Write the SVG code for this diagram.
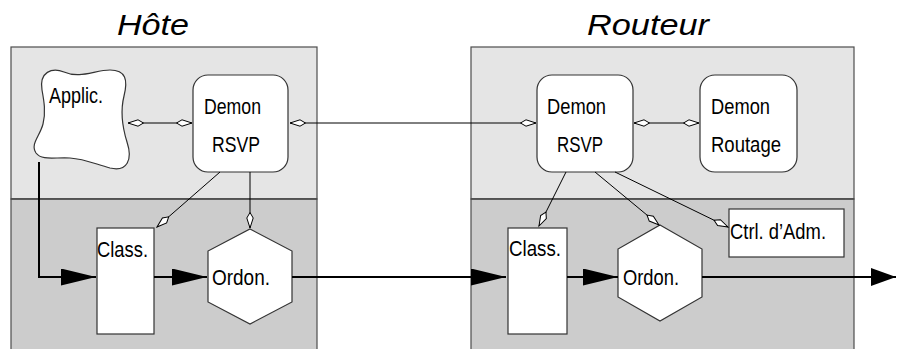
<svg xmlns="http://www.w3.org/2000/svg" width="897" height="349" viewBox="0 0 897 349">
<style>
  .top{fill:#e5e5e5;stroke:#4d4d4d;stroke-width:1.2}
  .bot{fill:#cccccc;stroke:#4d4d4d;stroke-width:1.2}
  .div{stroke:#4d4d4d;stroke-width:1.5;fill:none}
  .node{fill:#ffffff;stroke:#333333;stroke-width:1.2}
  .t{font-family:"Liberation Sans",Arial,sans-serif;font-size:22px;fill:#000}
  .title{font-family:"Liberation Sans",Arial,sans-serif;font-size:30px;font-style:italic;fill:#000}
  .ctl{stroke:#000;stroke-width:1;fill:none}
  .flow{stroke:#000;stroke-width:2;fill:none}
</style>
<defs>
  <marker id="open" markerUnits="userSpaceOnUse" markerWidth="18" markerHeight="10" refX="16" refY="4" orient="auto-start-reverse">
    <path d="M16,4 L6,0.8 L0.5,4 L6,7.2 Z" fill="#ffffff" stroke="#000" stroke-width="1"/>
  </marker>
  <marker id="big" markerUnits="userSpaceOnUse" markerWidth="36" markerHeight="18" refX="35" refY="8.5" orient="auto">
    <path d="M0,0 L35,8.5 L0,17 Z" fill="#000"/>
  </marker>
  <marker id="bigs" markerUnits="userSpaceOnUse" markerWidth="27" markerHeight="19" refX="25" refY="9" orient="auto">
    <path d="M0,0 L25,9 L0,18 Z" fill="#000"/>
  </marker>
</defs>

<g id="hote">
  <text class="title" x="117" y="35" textLength="72" lengthAdjust="spacingAndGlyphs">Hôte</text>
  <rect class="top" x="11" y="47" width="306" height="152"/>
  <rect class="bot" x="11" y="199" width="306" height="160"/>
  <line class="div" x1="11" y1="199" x2="317" y2="199"/>
</g>
<g id="routeur">
  <text class="title" x="587" y="35" textLength="122" lengthAdjust="spacingAndGlyphs">Routeur</text>
  <rect class="top" x="471" y="47" width="383" height="152"/>
  <rect class="bot" x="471" y="199" width="383" height="160"/>
  <line class="div" x1="471" y1="199" x2="854" y2="199"/>
</g>

<g id="applic">
  <path class="node" d="M42,90 C39,72 52,67 64,72 C80,79 95,70 110,70 C126,70 128,80 124,96 C120,112 122,126 127,142 C133,160 127,172 110,168 C95,164 85,159 70,158 C55,157 42,161 36,153 C30,144 40,136 43,124 C46,112 44,101 42,90 Z"/>
  <text class="t" x="49" y="103" textLength="54" lengthAdjust="spacingAndGlyphs">Applic.</text>
</g>
<g id="demon-rsvp-hote">
  <rect class="node" x="193" y="75" width="95" height="97" rx="15" ry="15"/>
  <text class="t" x="204" y="114" textLength="57" lengthAdjust="spacingAndGlyphs">Demon</text>
  <text class="t" x="212" y="152" textLength="48" lengthAdjust="spacingAndGlyphs">RSVP</text>
</g>
<g id="class-hote">
  <rect class="node" x="97" y="228" width="57" height="106"/>
  <text class="t" x="97" y="257" textLength="51" lengthAdjust="spacingAndGlyphs">Class.</text>
</g>
<g id="ordon-hote">
  <polygon class="node" points="250,229 292,251 292,302 250,324 208,302 208,251"/>
  <text class="t" x="212" y="285" textLength="58" lengthAdjust="spacingAndGlyphs">Ordon.</text>
</g>

<g id="demon-rsvp-routeur">
  <rect class="node" x="537" y="75" width="96" height="97" rx="15" ry="15"/>
  <text class="t" x="547" y="114" textLength="59" lengthAdjust="spacingAndGlyphs">Demon</text>
  <text class="t" x="557" y="152" textLength="46" lengthAdjust="spacingAndGlyphs">RSVP</text>
</g>
<g id="demon-routage">
  <rect class="node" x="700" y="75" width="97" height="97" rx="15" ry="15"/>
  <text class="t" x="711" y="114" textLength="59" lengthAdjust="spacingAndGlyphs">Demon</text>
  <text class="t" x="711" y="152" textLength="70" lengthAdjust="spacingAndGlyphs">Routage</text>
</g>
<g id="class-routeur">
  <rect class="node" x="508" y="228" width="59" height="106"/>
  <text class="t" x="509" y="256" textLength="52" lengthAdjust="spacingAndGlyphs">Class.</text>
</g>
<g id="ordon-routeur">
  <polygon class="node" points="660,225 702,249 702,297 660,321 618,297 618,249"/>
  <text class="t" x="623" y="285" textLength="56" lengthAdjust="spacingAndGlyphs">Ordon.</text>
</g>
<g id="ctrl-adm">
  <rect class="node" x="729" y="209" width="115" height="48"/>
  <text class="t" x="730" y="239" textLength="96" lengthAdjust="spacingAndGlyphs">Ctrl. d’Adm.</text>
</g>

<g id="connecteurs">
  <line class="ctl" x1="128" y1="123" x2="192" y2="123" marker-start="url(#open)" marker-end="url(#open)"/>
  <line class="ctl" x1="290" y1="123" x2="536" y2="123" marker-start="url(#open)" marker-end="url(#open)"/>
  <line class="ctl" x1="634" y1="123" x2="699" y2="123" marker-start="url(#open)" marker-end="url(#open)"/>
  <line class="ctl" x1="220" y1="172" x2="157" y2="227" marker-end="url(#open)"/>
  <line class="ctl" x1="250" y1="172" x2="250" y2="228" marker-end="url(#open)"/>
  <line class="ctl" x1="566" y1="172" x2="539" y2="226" marker-end="url(#open)"/>
  <line class="ctl" x1="595" y1="172" x2="659" y2="225" marker-end="url(#open)"/>
  <line class="ctl" x1="615" y1="172" x2="728" y2="227" marker-end="url(#open)"/>
  <path class="flow" d="M39,162 V277 H96" marker-end="url(#big)"/>
  <line class="flow" x1="154" y1="277" x2="207" y2="277" marker-end="url(#big)"/>
  <line class="flow" x1="292" y1="277" x2="506" y2="277" marker-end="url(#big)"/>
  <line class="flow" x1="567" y1="277" x2="618" y2="277" marker-end="url(#big)"/>
  <line class="flow" x1="702" y1="277" x2="896" y2="277" marker-end="url(#bigs)"/>
</g>
</svg>
